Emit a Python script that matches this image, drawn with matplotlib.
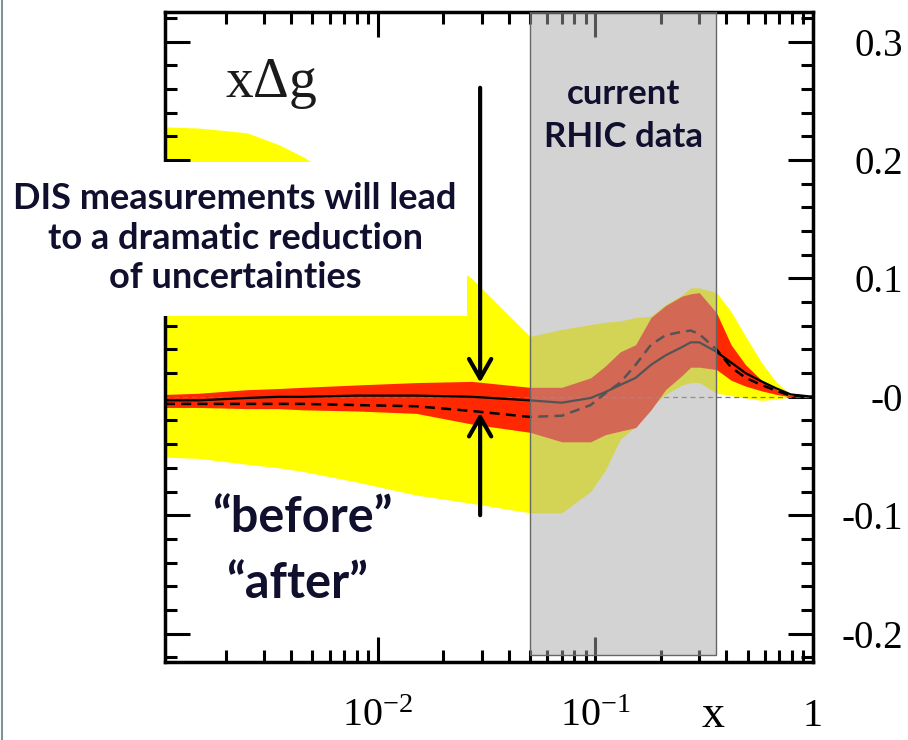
import numpy as np
import matplotlib
matplotlib.use('Agg')
import matplotlib.pyplot as plt
from matplotlib.patches import Rectangle, FancyArrowPatch
from matplotlib.lines import Line2D
from matplotlib.ticker import FixedLocator, FixedFormatter, MultipleLocator, LogLocator

plt.rcParams['font.family'] = 'Liberation Serif'
plt.rcParams['mathtext.fontset'] = 'custom'
plt.rcParams['mathtext.rm'] = 'Liberation Serif'

# x grid (log scale)
x = [0.00105, 0.0015, 0.0025, 0.0035, 0.0045, 0.008, 0.015, 0.027, 0.05, 0.07, 0.095, 0.111, 0.13,
     0.153, 0.18, 0.21, 0.25, 0.274, 0.3, 0.36, 0.42, 0.49, 0.58, 0.68, 0.79, 1.0]

# "before" band (yellow)
yellow_hi = [0.228, 0.227, 0.223, 0.213, 0.203, 0.175, 0.133, 0.100, 0.051, 0.057, 0.061, 0.063, 0.064,
             0.067, 0.068, 0.078, 0.086, 0.092, 0.092, 0.088, 0.072, 0.051, 0.029, 0.012, 0.002, 0.0]
yellow_lo = [-0.051, -0.052, -0.057, -0.060, -0.063, -0.072, -0.083, -0.090, -0.098, -0.098, -0.080, -0.062, -0.036,
             -0.025, -0.009, 0.002, 0.010, 0.012, 0.012, 0.003, 0.001, -0.001, -0.003, -0.002, 0.0, 0.0]

# "after" band (red)
red_hi = [0.002, 0.003, 0.006, 0.007, 0.008, 0.010, 0.012, 0.013, 0.008, 0.008, 0.016, 0.026, 0.038,
          0.044, 0.067, 0.077, 0.085, 0.087, 0.088, 0.071, 0.044, 0.027, 0.014, 0.006, 0.001, 0.0]
red_lo = [-0.009, -0.009, -0.010, -0.010, -0.011, -0.012, -0.014, -0.023, -0.030, -0.038, -0.038, -0.032, -0.029,
          -0.026, -0.011, 0.006, 0.018, 0.025, 0.025, 0.023, 0.014, 0.009, 0.005, 0.002, 0.0, 0.0]

# central curves
solid = [-0.003, -0.003, -0.001, 0.0, 0.0, 0.001, 0.001, 0.0, -0.003, -0.005, -0.001, 0.004, 0.010,
         0.016, 0.027, 0.035, 0.042, 0.046, 0.046, 0.038, 0.029, 0.020, 0.013, 0.007, 0.002, 0.0]
dashed = [-0.006, -0.006, -0.006, -0.006, -0.006, -0.007, -0.008, -0.012, -0.017, -0.016, -0.007, 0.003, 0.012,
          0.027, 0.044, 0.052, 0.055, 0.056, 0.053, 0.040, 0.025, 0.016, 0.010, 0.005, 0.001, 0.0]

rhic_range = [0.05, 0.357]
ytick_vals = [-0.2, -0.1, 0.0, 0.1, 0.2, 0.3]
ytick_labels = ['-0.2', '-0.1', '-0', '0.1', '0.2', '0.3']
xtick_vals = [0.01, 0.1, 1.0]
xtick_labels = [r'$\mathregular{10^{-2}}$', r'$\mathregular{10^{-1}}$', '1']

fig = plt.figure(figsize=(9.08, 7.4), dpi=100)
ax = fig.add_axes([165/908, 78/740, 648/908, 650/740])

ax.fill_between(x, yellow_lo, yellow_hi, color='#ffff00', lw=0, zorder=1)
ax.fill_between(x, red_lo, red_hi, color='#ff2800', lw=0, zorder=2)
ax.axhline(0, color='#777777', lw=0.9, ls=(0, (4, 3)), zorder=2.5)
ax.plot(x, solid, color='black', lw=1.6, zorder=3)
ax.plot(x, dashed, color='black', lw=1.8, ls=(0, (4, 2.5)), zorder=3)

# current RHIC data region
ax.add_patch(Rectangle((rhic_range[0], -0.218), rhic_range[1] - rhic_range[0], 0.6,
                       facecolor=(0.66, 0.66, 0.665, 0.5), edgecolor='#666666', lw=1, zorder=4))

ax.set_xscale('log')
ax.set_xlim(0.00105, 1.0)
ax.set_ylim(-0.224, 0.325)

ax.xaxis.set_major_locator(FixedLocator(xtick_vals))
ax.xaxis.set_major_formatter(FixedFormatter(xtick_labels))
ax.xaxis.set_minor_locator(LogLocator(base=10, subs=np.arange(2, 10)))
ax.xaxis.set_minor_formatter(FixedFormatter([]))
ax.yaxis.set_major_locator(FixedLocator(ytick_vals))
ax.yaxis.set_major_formatter(FixedFormatter(ytick_labels))
ax.yaxis.set_minor_locator(MultipleLocator(0.02))

ax.tick_params(which='both', direction='in', top=True, right=True, width=2.2, color='black')
ax.tick_params(which='major', length=18)
ax.tick_params(which='minor', length=8.5)
ax.tick_params(axis='y', labelleft=False, labelright=True, labelsize=28, pad=65)
ax.tick_params(axis='x', labelsize=29, pad=46)
for lab in ax.get_yticklabels():
    lab.set_ha('right')
for lab in ax.get_xticklabels():
    lab.set_va('baseline')
for sp in ax.spines.values():
    sp.set_linewidth(2.5)

ax.set_xlabel('x', fontsize=33, va='baseline')
ax.xaxis.set_label_coords(0.846, -0.1)

# arrows
arrow_x = 0.0295
ax.add_patch(FancyArrowPatch((arrow_x, 0.261), (arrow_x, 0.012), arrowstyle='->,head_length=14,head_width=8',
                             mutation_scale=1, lw=3, color='black', shrinkA=0, shrinkB=0, zorder=6))
ax.add_patch(FancyArrowPatch((arrow_x, -0.100), (arrow_x, -0.0135), arrowstyle='->,head_length=14,head_width=8',
                             mutation_scale=1, lw=3, color='black', shrinkA=0, shrinkB=0, zorder=6))

ax.text(0.134, 0.2375, 'current\nRHIC data', family='Lato', weight='bold', fontsize=25,
        color='#10102e', ha='center', va='center', linespacing=1.45, zorder=7)

# white box behind the DIS text
fig.add_artist(Rectangle((3/908, 424/740), 464/908, 154/740, transform=fig.transFigure,
                         facecolor='white', edgecolor='none', zorder=5))
fig.text(235/908, 1 - 238/740, 'DIS measurements will lead\nto a dramatic reduction\nof uncertainties',
         family='Lato', weight='bold', fontsize=26, color='#10102e', ha='center', va='center',
         linespacing=1.25, zorder=6)

fig.text(225/908, 1 - 97/740, r'x$\Delta$g', fontsize=40, color='#1a1a1a', ha='left', va='baseline', zorder=6)
fig.text(302/908, 1 - 518/740, '\u201cbefore\u201d', family='Lato', weight='bold', fontsize=35,
         color='#10102e', ha='center', va='center', zorder=6)
fig.text(297/908, 1 - 583/740, '\u201cafter\u201d', family='Lato', weight='bold', fontsize=35,
         color='#10102e', ha='center', va='center', zorder=6)

# slide border
fig.add_artist(Line2D([2/908, 2/908], [0, 1], transform=fig.transFigure, color='#7b9595', lw=1.5))

fig.savefig('out.png', dpi=100)
